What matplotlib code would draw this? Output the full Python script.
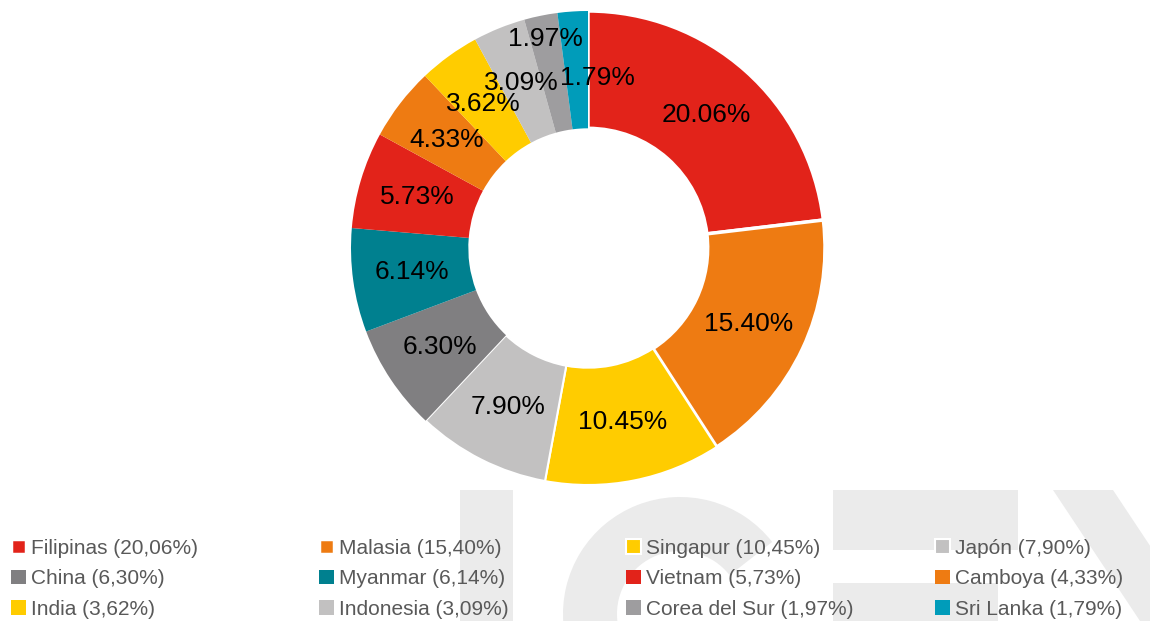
import matplotlib
matplotlib.use('Agg')
import matplotlib.pyplot as plt
from matplotlib.patches import Rectangle, Wedge, Polygon
import numpy as np

plt.rcParams['font.family'] = ['Liberation Sans', 'DejaVu Sans']

countries = ['Filipinas', 'Malasia', 'Singapur', 'Japón', 'China', 'Myanmar',
             'Vietnam', 'Camboya', 'India', 'Indonesia', 'Corea del Sur', 'Sri Lanka']
shares = [20.06, 15.40, 10.45, 7.90, 6.30, 6.14, 5.73, 4.33, 3.62, 3.09, 1.97, 1.79]
colors = ['#E2231A', '#EE7B12', '#FFCC00', '#C2C1C1', '#807F81', '#00808F',
          '#E2231A', '#EE7B12', '#FFCC00', '#C2C1C1', '#9E9D9F', '#009CBA']

W, H = 1150, 621
fig = plt.figure(figsize=(W / 100, H / 100), dpi=100)

# faint ICEX watermark behind everything
bg = fig.add_axes([0, 0, 1, 1], zorder=-1)
bg.set_xlim(0, W)
bg.set_ylim(H, 0)
bg.axis('off')
wm = '#EBEBEB'
bg.add_patch(Rectangle((460, 490), 53, 140, color=wm, lw=0))
bg.add_patch(Wedge((680, 614), 117, 28, 322, width=54, color=wm, lw=0))
bg.add_patch(Rectangle((833, 490), 185, 60, color=wm, lw=0))
bg.add_patch(Rectangle((833, 583), 165, 60, color=wm, lw=0))
bg.add_patch(Polygon([(1053, 490), (1113, 490), (1200, 621), (1140, 621)], color=wm, lw=0))

# donut
ax = fig.add_axes([351 / W, 136 / H, 474 / W, 474 / H])
wedges, _ = ax.pie(shares, colors=colors, startangle=90, counterclock=False,
                   radius=1, wedgeprops=dict(width=0.495, linewidth=0))
for w, lw in zip(wedges[:4], [2.5, 2.5, 1.5, 1.5]):
    w.set_edgecolor('white')
    w.set_linewidth(lw)
ax.set_xlim(-1, 1)
ax.set_ylim(-1, 1)

# labels in the ring; two small slices nudged like the original
nudge = {'Corea del Sur': (0.90, 0.0), 'Sri Lanka': (0.72, -7.0)}
for w, name, v in zip(wedges, countries, shares):
    r, dth = nudge.get(name, (0.75, 0.0))
    th = np.deg2rad((w.theta1 + w.theta2) / 2 + dth)
    ax.text(r * np.cos(th), r * np.sin(th), f'{v:.2f}%', ha='center', va='center',
            fontsize=19, color='#000000')

# legend: 4 columns, 3 rows, filled row by row
labels = [f"{c} ({f'{v:.2f}'.replace('.', ',')}%)" for c, v in zip(countries, shares)]
col_x = [11, 319, 626, 935]
for j, x in enumerate(col_x):
    idx = [j, j + 4, j + 8]
    fig.legend([wedges[i] for i in idx], [labels[i] for i in idx],
               loc='upper left', bbox_to_anchor=(x / W, 1 - 539 / H),
               bbox_transform=fig.transFigure, frameon=False, fontsize=15,
               labelcolor='#595959', handlelength=0.7, handleheight=0.7,
               handletextpad=0.25, labelspacing=0.55, borderpad=0, borderaxespad=0)

fig.savefig('out.png', dpi=100)
